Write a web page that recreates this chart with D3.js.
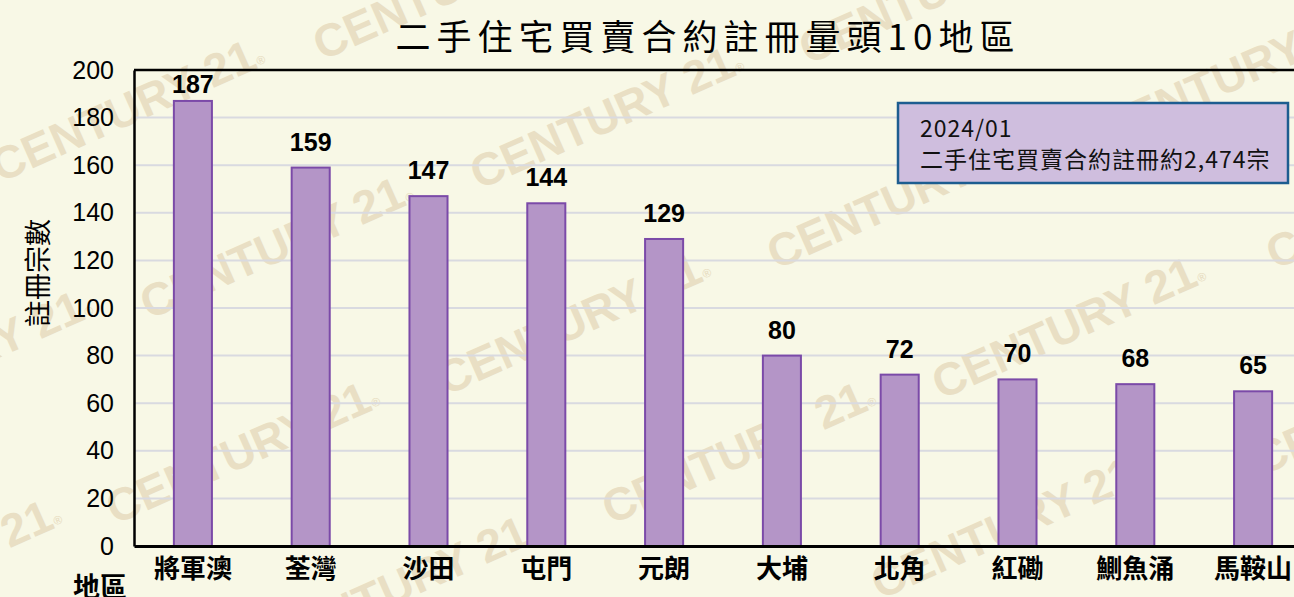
<!DOCTYPE html>
<html>
<head>
<meta charset="utf-8">
<script src="https://cdn.jsdelivr.net/npm/d3@7"></script>
<style>
  body { margin: 0; background: #f8f8e6; }
  svg { display: block; }
</style>
</head>
<body>
<div id="chart"></div>
<script>

// data
const districts = ["將軍澳", "荃灣", "沙田", "屯門", "元朗", "大埔", "北角", "紅磡", "鰂魚涌", "馬鞍山"];
const counts = [187, 159, 147, 144, 129, 80, 72, 70, 68, 65];
const yTicks = [0, 20, 40, 60, 80, 100, 120, 140, 160, 180, 200];
const chartTitle = "二手住宅買賣合約註冊量頭10地區";
const yTitle = "註冊宗數";
const xTitle = "地區";
const noteLines = ["2024/01", "二手住宅買賣合約註冊約2,474宗"];

// where the background logo is stamped (start of the word)
const stamps = [[322, 61], [808, 65], [0, 183], [479, 190], [1106, 148], [149, 320],
  [776, 270], [1275, 270], [-172, 434], [446, 396], [941, 400], [115, 525],
  [611, 525], [1262, 476], [-203, 643], [273, 659], [880, 600]];

const width = 1294, height = 597;
const cjk = "'Noto Sans CJK TC', 'Noto Sans CJK SC', sans-serif";
const latin = "'Liberation Sans', Arial, sans-serif";

const svg = d3.select("#chart").append("svg")
  .attr("width", width)
  .attr("height", height);

svg.append("rect")
  .attr("width", width)
  .attr("height", height)
  .attr("fill", "#f8f8e6");

// watermark
const wm = svg.append("g").attr("class", "watermark");
stamps.forEach(function (p) {
  const t = wm.append("text")
    .attr("transform", "translate(" + p[0] + "," + p[1] + ") rotate(-24)")
    .attr("font-family", latin)
    .attr("font-weight", "bold")
    .attr("font-size", 46)
    .attr("fill", "#e9dfc4")
    .text("CENTURY 21");
  t.append("tspan")
    .attr("font-size", 12)
    .attr("dy", -2)
    .text("®");
});

const plot = { left: 134, top: 70, right: 1312, bottom: 546 };

const x = d3.scaleBand()
  .domain(districts)
  .range([plot.left, plot.right])
  .paddingInner(0.677)
  .paddingOuter(0.3385);

const y = d3.scaleLinear()
  .domain([0, 200])
  .range([plot.bottom, plot.top]);

// gridlines
svg.append("g")
  .selectAll("line")
  .data(yTicks.filter(d => d > 0 && d < 200))
  .join("line")
  .attr("x1", plot.left)
  .attr("x2", plot.right)
  .attr("y1", d => y(d))
  .attr("y2", d => y(d))
  .attr("stroke", "#d9dae0")
  .attr("stroke-width", 2);

// bars
svg.append("g")
  .selectAll("rect")
  .data(counts)
  .join("rect")
  .attr("x", (d, i) => x(districts[i]))
  .attr("y", d => y(d))
  .attr("width", x.bandwidth())
  .attr("height", d => y(0) - y(d))
  .attr("fill", "#b495c7")
  .attr("stroke", "#7b4aa8")
  .attr("stroke-width", 2);

// value labels
svg.append("g")
  .selectAll("text")
  .data(counts)
  .join("text")
  .attr("x", (d, i) => x(districts[i]) + x.bandwidth() / 2)
  .attr("y", d => Math.max(y(d) - 17, plot.top + 23))
  .attr("text-anchor", "middle")
  .attr("font-family", latin)
  .attr("font-weight", "bold")
  .attr("font-size", 25)
  .attr("fill", "#000")
  .text(d => d);

// frame: top border
svg.append("line")
  .attr("x1", plot.left).attr("x2", plot.right)
  .attr("y1", plot.top).attr("y2", plot.top)
  .attr("stroke", "#000").attr("stroke-width", 2.5);

// y axis
const yAxis = d3.axisLeft(y).tickValues(yTicks).tickSize(0).tickPadding(20);
const yAxisGroup = svg.append("g")
  .attr("transform", "translate(" + plot.left + ",0)")
  .call(yAxis);
yAxisGroup.select(".domain").attr("stroke", "#000").attr("stroke-width", 2.5);
yAxisGroup.selectAll("text")
  .attr("font-family", latin)
  .attr("font-size", 25)
  .attr("fill", "#000");

// x axis
const xAxis = d3.axisBottom(x).tickSize(0).tickPadding(14);
const xAxisGroup = svg.append("g")
  .attr("transform", "translate(0," + plot.bottom + ")")
  .call(xAxis);
xAxisGroup.select(".domain").attr("stroke", "#000").attr("stroke-width", 3);
xAxisGroup.selectAll("text")
  .attr("font-family", cjk)
  .attr("font-weight", "bold")
  .attr("font-size", 26)
  .attr("fill", "#000");

// titles
svg.append("text")
  .attr("x", 708)
  .attr("y", 50)
  .attr("text-anchor", "middle")
  .attr("font-family", cjk)
  .attr("font-size", 35)
  .attr("letter-spacing", 6)
  .attr("fill", "#000")
  .text(chartTitle);

svg.append("text")
  .attr("transform", "translate(36,273) rotate(-90)")
  .attr("text-anchor", "middle")
  .attr("dominant-baseline", "central")
  .attr("font-family", cjk)
  .attr("font-size", 27)
  .attr("fill", "#000")
  .text(yTitle);

svg.append("text")
  .attr("x", 100)
  .attr("y", 597)
  .attr("text-anchor", "middle")
  .attr("font-family", cjk)
  .attr("font-weight", "bold")
  .attr("font-size", 27)
  .attr("fill", "#000")
  .text(xTitle);

// note box
const note = svg.append("g");
note.append("rect")
  .attr("x", 898)
  .attr("y", 103)
  .attr("width", 390)
  .attr("height", 80)
  .attr("fill", "#cfbede")
  .attr("stroke", "#1d5d90")
  .attr("stroke-width", 2.5);
note.selectAll("text")
  .data(noteLines)
  .join("text")
  .attr("x", 920)
  .attr("y", (d, i) => 137 + i * 31)
  .attr("font-family", cjk)
  .attr("font-size", 23)
  .attr("letter-spacing", 1)
  .attr("fill", "#111")
  .text(d => d);

</script>
</body>
</html>
